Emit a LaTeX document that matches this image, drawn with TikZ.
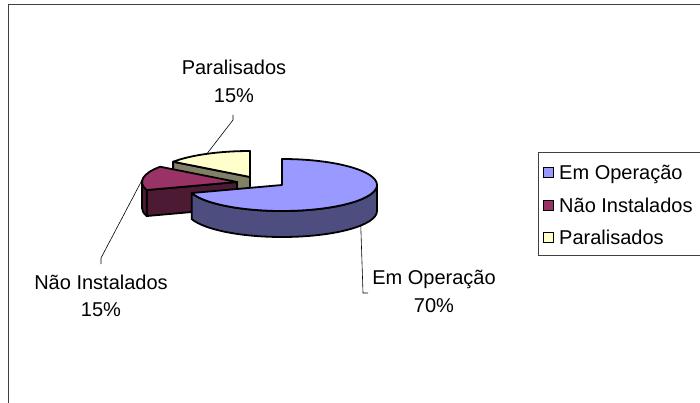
\documentclass[tikz,border=0pt]{standalone}
\usepackage{fontspec}
\setmainfont{Liberation Sans}
\usetikzlibrary{calc}
\definecolor{emtop}{RGB}{153,153,255}
\definecolor{emside}{RGB}{77,77,128}
\definecolor{naotop}{RGB}{153,51,102}
\definecolor{naoside}{RGB}{77,26,51}
\definecolor{partop}{RGB}{255,255,204}
\definecolor{parside}{RGB}{128,128,102}
\begin{document}
\begin{tikzpicture}[
      x=1pt, y=1pt,
      face/.style={draw=black, line width=1.8pt, line join=round},
      lbl/.style={font=\fontsize{20}{27.5}\selectfont, align=center, inner sep=0pt},
      leader/.style={draw=black, line width=0.6pt},
      key/.style={draw=black, line width=0.9pt, minimum size=10pt, inner sep=0pt},
      ell/.style={x radius=95pt, y radius=26pt}
    ]
      \useasboundingbox (0,0) rectangle (700,402);
      \clip (0,0) rectangle (700,402);
      % chart area and legend frames
      \draw[black!75, line width=0.8pt] (8,-10) rectangle (720,398);
      \draw[black!75, line width=0.8pt] (538,147) rectangle (720,250);
      % slice vertices
      \coordinate (P) at (250,225);
      \coordinate (M) at (237,220);
      \coordinate (E) at (282,217);
      % Paralisados
      \fill[parside, face] (P) -- ($(P)+(144:95pt and 26pt)$) -- ++(0,-26)
        -- ($(P)+(0,-26)$) -- cycle;
      \fill[partop, face] (P) -- ($(P)+(90:95pt and 26pt)$)
        arc[start angle=90, end angle=144, ell] -- cycle;
      % Nao Instalados
      \fill[naoside, face] (M) -- ($(M)+(198:95pt and 26pt)$) -- ++(0,-26)
        -- ($(M)+(0,-26)$) -- cycle;
      \fill[naoside, face] ($(M)+(180:95pt and 26pt)$)
        arc[start angle=180, end angle=198, ell] -- ++(0,-26)
        arc[start angle=198, end angle=180, ell] -- cycle;
      \fill[naotop, face] (M) -- ($(M)+(144:95pt and 26pt)$)
        arc[start angle=144, end angle=198, ell] -- cycle;
      % Em Operacao
      \fill[emside, face] ($(E)+(198:95pt and 26pt)$)
        arc[start angle=198, end angle=360, ell] -- ++(0,-26)
        arc[start angle=360, end angle=198, ell] -- cycle;
      \fill[emtop, face] (E) -- ($(E)+(198:95pt and 26pt)$)
        arc[start angle=198, end angle=450, ell] -- cycle;
      % data labels
      \node[lbl] (par-lbl) at (234,320.5) {Paralisados\\15\%};
      \node[lbl] (nao-lbl) at (101,106) {Não Instalados\\15\%};
      \node[lbl] (em-lbl) at (434,110.5) {Em Operação\\70\%};
      \coordinate (par-pt) at ($(P)+(117:95pt and 26pt)$);
      \coordinate (nao-pt) at ($(M)+(171:95pt and 26pt)$);
      \coordinate (em-pt) at ($(E)+(-34:95pt and 26pt)+(0,-26)$);
      \coordinate (par-tick) at (233,287);
      \coordinate (nao-tick) at (101,138);
      \coordinate (em-tick) at (368,109);
      \draw[leader] (par-tick) -- ++(0,-5) -- (par-pt);
      \draw[leader] (nao-tick) -- ++(0,6) -- (nao-pt);
      \draw[leader] (em-tick) -- ++(-5,0) -- (em-pt);
      % legend
      \foreach \txt/\col [count=\i] in {Em Operação/emtop, Não Instalados/naotop, Paralisados/partop} {
        \pgfmathsetmacro{\yy}{262-32.5*\i}
        \node[key, fill=\col] (key-\i) at (548,\yy) {};
        \node[lbl, anchor=base west] (ktxt-\i) at (559,\yy-7) {\txt};
      }
    \end{tikzpicture}
\end{document}
